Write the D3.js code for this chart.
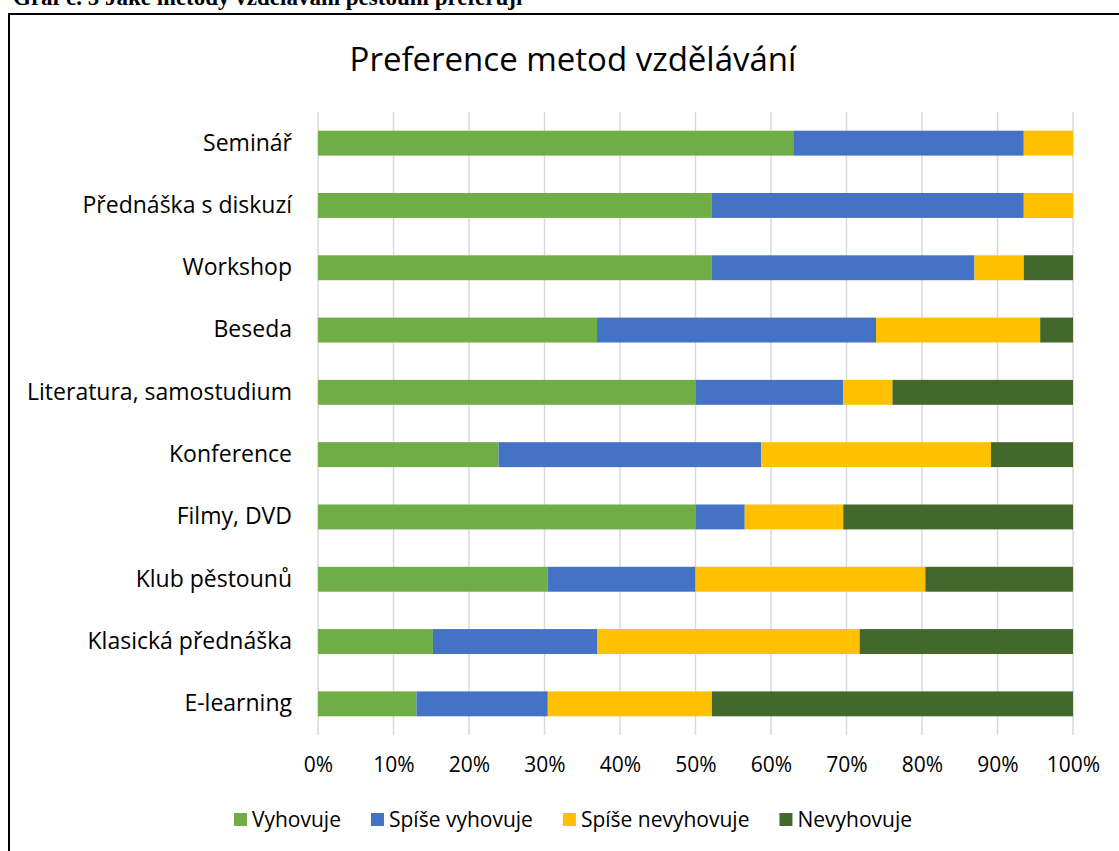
<!DOCTYPE html>
<html>
<head>
<meta charset="utf-8">
<script src="https://cdn.jsdelivr.net/npm/d3@7"></script>
<style>
  body { margin: 0; background: #fff; }
  text { font-family: "Open Sans", Lato, sans-serif; fill: #000; }
</style>
</head>
<body>
<div id="chart"></div>
<script>
// answers per method, counted out of 46 respondents
let categories = ["Seminář", "Přednáška s diskuzí", "Workshop", "Beseda", "Literatura, samostudium",
                  "Konference", "Filmy, DVD", "Klub pěstounů", "Klasická přednáška", "E-learning"];
let seriesNames = ["Vyhovuje", "Spíše vyhovuje", "Spíše nevyhovuje", "Nevyhovuje"];
let vyhovuje        = [29, 24, 24, 17, 23, 11, 23, 14, 7, 6];
let spiseVyhovuje   = [14, 19, 16, 17, 9, 16, 3, 9, 10, 8];
let spiseNevyhovuje = [3, 3, 3, 10, 3, 14, 6, 14, 16, 10];
let nevyhovuje      = [0, 0, 3, 2, 11, 5, 14, 9, 13, 22];
let tickValues = [0, 0.1, 0.2, 0.3, 0.4, 0.5, 0.6, 0.7, 0.8, 0.9, 1];
let colors = ["#70ad47", "#4472c4", "#ffc000", "#43682b"];

let width = 1119, height = 851;
let margin = {top: 112, right: 46, bottom: 116, left: 318};

let rows = categories.map(function(c, i) {
	return {cat: c, "Vyhovuje": vyhovuje[i], "Spíše vyhovuje": spiseVyhovuje[i],
	        "Spíše nevyhovuje": spiseNevyhovuje[i], "Nevyhovuje": nevyhovuje[i]};
});
let series = d3.stack().keys(seriesNames).offset(d3.stackOffsetExpand)(rows);

let svg = d3.select("#chart").append("svg")
			.attr("width", width)
			.attr("height", height);

// caption of the document, cut off by the top edge
svg.append("text")
	.attr("x", 13)
	.attr("y", 5)
	.style("font-family", "'Liberation Serif', 'Times New Roman', serif")
	.style("font-weight", "bold")
	.style("font-size", "23px")
	.text("Graf č. 5 Jaké metody vzdělávání pěstouni preferují");

// chart frame (right and bottom edges lie outside the picture)
svg.append("rect")
	.attr("x", 9)
	.attr("y", 14)
	.attr("width", 1200)
	.attr("height", 900)
	.attr("fill", "white")
	.attr("stroke", "black")
	.attr("stroke-width", 2);

svg.append("text")
	.attr("x", 573)
	.attr("y", 71)
	.attr("text-anchor", "middle")
	.style("font-size", "33px")
	.text("Preference metod vzdělávání");

let x = d3.scaleLinear().domain([0, 1]).range([margin.left, width - margin.right]);
let y = d3.scaleBand().domain(categories)
			.range([margin.top, height - margin.bottom])
			.paddingInner(0.6).paddingOuter(0.3);

// vertical gridlines
svg.append("g").selectAll("line")
	.data(tickValues)
	.join("line")
	.attr("x1", d => x(d)).attr("x2", d => x(d))
	.attr("y1", margin.top).attr("y2", height - margin.bottom)
	.attr("stroke", "#d9d9d9")
	.attr("stroke-width", 1.5);

svg.append("g").selectAll("g")
	.data(series)
	.join("g")
	.attr("fill", (d, i) => colors[i])
	.selectAll("rect")
	.data(d => d)
	.join("rect")
	.attr("x", d => x(d[0]))
	.attr("y", d => y(d.data.cat))
	.attr("width", d => x(d[1]) - x(d[0]))
	.attr("height", y.bandwidth());

// x axis labels
let xAxis = svg.append("g")
	.attr("transform", "translate(0," + (height - margin.bottom) + ")")
	.call(d3.axisBottom(x).tickValues(tickValues).tickFormat(d3.format(".0%")).tickSize(0).tickPadding(22));
xAxis.select(".domain").remove();
xAxis.selectAll("text").style("font-size", "21px").style("font-family", null);

// category labels
let yAxis = svg.append("g")
	.attr("transform", "translate(292,0)")
	.call(d3.axisLeft(y).tickSize(0).tickPadding(0));
yAxis.select(".domain").remove();
yAxis.selectAll("text").style("font-size", "23px").style("font-family", null);

// legend, centred under the plot
let legend = svg.append("g").attr("transform", "translate(0,819)");
let items = [];
let lx = 0;
seriesNames.forEach(function(name, i) {
	let g = legend.append("g");
	g.append("rect")
		.attr("y", -6)
		.attr("width", 13).attr("height", 13)
		.attr("fill", colors[i]);
	let t = g.append("text")
		.attr("x", 18).attr("y", 7.5)
		.style("font-size", "21px")
		.text(name);
	items.push({g: g, x: lx});
	lx += 18 + t.node().getComputedTextLength() + (i < seriesNames.length - 1 ? 30 : 0);
});
let lstart = 573 - lx / 2;
items.forEach(d => d.g.attr("transform", "translate(" + (lstart + d.x) + ",0)"));
</script>
</body>
</html>
